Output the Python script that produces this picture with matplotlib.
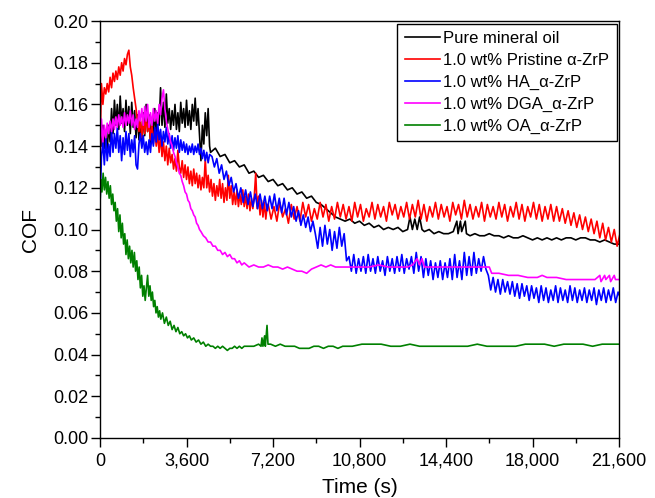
import matplotlib
matplotlib.use('Agg')
import matplotlib.pyplot as plt
from matplotlib.ticker import MultipleLocator, FuncFormatter

plt.rcParams['font.family'] = ['Liberation Sans', 'DejaVu Sans']

# ---------------- data (time in s, COF) ----------------
series_labels = ['Pure mineral oil', '1.0 wt% Pristine \u03b1-ZrP', '1.0 wt% HA_\u03b1-ZrP',
                 '1.0 wt% DGA_\u03b1-ZrP', '1.0 wt% OA_\u03b1-ZrP']
series_colors = ['#000000', '#ff0000', '#0000ff', '#ff00ff', '#008000']

x_ticks = [0, 3600, 7200, 10800, 14400, 18000, 21600]
y_ticks = [0.00, 0.02, 0.04, 0.06, 0.08, 0.10, 0.12, 0.14, 0.16, 0.18, 0.20]

# black: pure mineral oil
black_early = [  # sampled every 60 s from 0 s
    0.148, 0.140, 0.150, 0.139, 0.146, 0.138, 0.150, 0.142, 0.158, 0.146,
    0.162, 0.150, 0.160, 0.148, 0.164, 0.151, 0.158, 0.147, 0.162, 0.150,
    0.159, 0.146, 0.161, 0.149, 0.157, 0.144, 0.155, 0.143, 0.152, 0.140,
    0.156, 0.145, 0.160, 0.147, 0.155, 0.141, 0.153, 0.146, 0.158, 0.144,
    0.156, 0.150, 0.168, 0.150, 0.161, 0.149, 0.165, 0.151, 0.158, 0.148,
    0.157, 0.150, 0.160, 0.148, 0.156, 0.147, 0.161, 0.151, 0.158, 0.149,
    0.162, 0.150, 0.157, 0.148, 0.160, 0.152, 0.163, 0.150, 0.158, 0.145,
    0.133, 0.150, 0.141, 0.156, 0.145, 0.158, 0.140]
black_late = [
    (4600, 0.137), (4800, 0.139), (5000, 0.135), (5200, 0.136), (5400, 0.132), (5600, 0.133),
    (5800, 0.130), (6000, 0.131), (6200, 0.127), (6400, 0.128), (6600, 0.125), (6800, 0.126),
    (7000, 0.123), (7200, 0.124), (7400, 0.121), (7600, 0.122), (7800, 0.119), (8000, 0.120),
    (8200, 0.117), (8400, 0.118), (8600, 0.115), (8800, 0.116), (9000, 0.113), (9200, 0.112),
    (9400, 0.110), (9600, 0.108), (9800, 0.106), (10000, 0.105), (10200, 0.104), (10400, 0.105),
    (10600, 0.103), (10800, 0.104), (11000, 0.102), (11200, 0.103), (11400, 0.101), (11600, 0.102),
    (11800, 0.100), (12000, 0.101), (12200, 0.100), (12400, 0.101), (12600, 0.099), (12800, 0.100),
    (12900, 0.106), (13000, 0.100), (13100, 0.105), (13200, 0.100), (13300, 0.106), (13400, 0.100),
    (13500, 0.099), (13700, 0.100), (13900, 0.098), (14100, 0.099), (14300, 0.098), (14500, 0.098),
    (14700, 0.099), (14850, 0.104), (14900, 0.098), (15000, 0.104), (15050, 0.099), (15200, 0.104),
    (15250, 0.098), (15400, 0.097), (15600, 0.098), (15800, 0.097), (16000, 0.097), (16200, 0.098),
    (16400, 0.097), (16600, 0.097), (16800, 0.096), (17000, 0.097), (17200, 0.096), (17400, 0.096),
    (17600, 0.097), (17800, 0.096), (18000, 0.095), (18200, 0.096), (18400, 0.095), (18600, 0.096),
    (18800, 0.095), (19000, 0.096), (19200, 0.095), (19400, 0.096), (19600, 0.096), (19800, 0.095),
    (20000, 0.096), (20200, 0.096), (20400, 0.095), (20600, 0.095), (20800, 0.094), (21000, 0.095),
    (21200, 0.094), (21400, 0.093), (21600, 0.093)]

# red: pristine alpha-ZrP
red_early = [  # every 60 s from 0 s
    0.140, 0.170, 0.160, 0.168, 0.165, 0.170, 0.166, 0.173, 0.168, 0.175,
    0.171, 0.176, 0.172, 0.178, 0.174, 0.180, 0.176, 0.182, 0.179, 0.184,
    0.186, 0.178, 0.174, 0.168, 0.163, 0.158, 0.152, 0.147, 0.153, 0.144,
    0.153, 0.146, 0.155, 0.147, 0.152, 0.143, 0.150, 0.141, 0.148, 0.140,
    0.146, 0.137, 0.145, 0.135, 0.142, 0.133, 0.140, 0.131, 0.139, 0.132,
    0.136, 0.129, 0.134, 0.128, 0.138, 0.130, 0.127, 0.133, 0.125, 0.131,
    0.124, 0.130, 0.122, 0.128, 0.121, 0.129, 0.122, 0.127, 0.120, 0.126,
    0.119, 0.125, 0.120, 0.134, 0.120, 0.126, 0.118, 0.124, 0.116, 0.122,
    0.114, 0.121, 0.116, 0.124, 0.115, 0.122, 0.113, 0.120, 0.114, 0.126,
    0.115, 0.121, 0.112, 0.118, 0.112, 0.119, 0.111, 0.117, 0.112, 0.119,
    0.111, 0.116, 0.110, 0.117, 0.109, 0.115, 0.110, 0.116, 0.127, 0.110,
    0.116, 0.107, 0.114, 0.106, 0.113, 0.105, 0.112]
red_late = [  # every 120 s from 7000 s
    0.112, 0.105, 0.111, 0.104, 0.113, 0.106, 0.110, 0.103, 0.112, 0.105,
    0.111, 0.104, 0.113, 0.106, 0.112, 0.104, 0.110, 0.105, 0.113, 0.106,
    0.112, 0.104, 0.111, 0.105, 0.113, 0.106, 0.112, 0.105, 0.111, 0.104,
    0.113, 0.106, 0.112, 0.104, 0.110, 0.106, 0.113, 0.105, 0.112, 0.106,
    0.111, 0.104, 0.113, 0.107, 0.112, 0.105, 0.111, 0.106, 0.113, 0.105,
    0.112, 0.106, 0.114, 0.105, 0.112, 0.104, 0.111, 0.106, 0.113, 0.105,
    0.112, 0.106, 0.111, 0.104, 0.113, 0.107, 0.112, 0.105, 0.114, 0.106,
    0.112, 0.105, 0.111, 0.106, 0.113, 0.104, 0.112, 0.106, 0.111, 0.105,
    0.113, 0.106, 0.112, 0.104, 0.111, 0.106, 0.113, 0.105, 0.112, 0.104,
    0.111, 0.106, 0.113, 0.105, 0.112, 0.104, 0.111, 0.105, 0.112, 0.104,
    0.111, 0.104, 0.110, 0.103, 0.109, 0.102, 0.108, 0.101, 0.107, 0.100,
    0.106, 0.099, 0.105, 0.098, 0.104, 0.096, 0.103, 0.095, 0.101, 0.094,
    0.100, 0.092, 0.098]

# blue: HA_alpha-ZrP
blue_early = [  # every 60 s from 0 s
    0.112, 0.135, 0.142, 0.131, 0.144, 0.133, 0.141, 0.135, 0.148, 0.137,
    0.146, 0.139, 0.149, 0.137, 0.145, 0.133, 0.144, 0.136, 0.147, 0.138,
    0.146, 0.135, 0.143, 0.137, 0.145, 0.131, 0.129, 0.141, 0.146, 0.139,
    0.145, 0.137, 0.142, 0.136, 0.143, 0.137, 0.146, 0.140, 0.149, 0.142,
    0.151, 0.143, 0.148, 0.140, 0.147, 0.142, 0.149, 0.141, 0.146, 0.139,
    0.145, 0.138, 0.144, 0.139, 0.145, 0.137, 0.143, 0.138, 0.142, 0.137,
    0.141, 0.136, 0.140, 0.137, 0.141, 0.136, 0.140, 0.137, 0.141, 0.136,
    0.139, 0.134, 0.138, 0.133, 0.137, 0.132, 0.136]
blue_mid = [  # every 100 s from 4660 s
    0.135, 0.130, 0.134, 0.127, 0.131, 0.124, 0.128, 0.121, 0.125, 0.118,
    0.122, 0.115, 0.120, 0.113, 0.119, 0.112, 0.118, 0.111, 0.117, 0.110,
    0.117, 0.110, 0.116, 0.109, 0.116, 0.110, 0.117, 0.109, 0.115, 0.108,
    0.115, 0.107, 0.113, 0.106, 0.111, 0.104, 0.109, 0.102, 0.107, 0.101,
    0.106, 0.099, 0.104, 0.098,
    0.091, 0.101, 0.092, 0.102, 0.093, 0.100, 0.090, 0.099, 0.091, 0.101,
    0.092, 0.098, 0.085]
blue_plateau = [  # every 100 s from 10360 s
    0.087, 0.080, 0.088, 0.079, 0.086, 0.080, 0.087, 0.079, 0.088, 0.080,
    0.086, 0.079, 0.087, 0.080, 0.085, 0.078, 0.087, 0.080, 0.086, 0.079,
    0.087, 0.080, 0.088, 0.079, 0.086, 0.081, 0.087, 0.079, 0.089, 0.080,
    0.087, 0.077, 0.086, 0.078, 0.085, 0.076, 0.084, 0.077, 0.085, 0.076,
    0.084, 0.077, 0.086, 0.076, 0.088, 0.077, 0.085, 0.076, 0.089, 0.078,
    0.087, 0.078, 0.089, 0.079, 0.086, 0.080, 0.087, 0.081]
blue_late = [  # every 100 s from 16160 s
    0.078, 0.071, 0.077, 0.070, 0.076, 0.069, 0.076, 0.070, 0.075, 0.069,
    0.075, 0.068, 0.074, 0.067, 0.074, 0.068, 0.073, 0.066, 0.073, 0.067,
    0.072, 0.065, 0.073, 0.066, 0.072, 0.065, 0.071, 0.066, 0.073, 0.065,
    0.072, 0.066, 0.071, 0.065, 0.073, 0.066, 0.072, 0.065, 0.071, 0.066,
    0.072, 0.065, 0.071, 0.066, 0.072, 0.064, 0.071, 0.066, 0.072, 0.065,
    0.071, 0.066, 0.072, 0.065, 0.070, 0.067]

# magenta: DGA_alpha-ZrP
magenta_early = [  # every 60 s from 0 s
    0.135, 0.153, 0.142, 0.150, 0.144, 0.151, 0.146, 0.152, 0.147, 0.153,
    0.148, 0.154, 0.149, 0.155, 0.150, 0.154, 0.149, 0.156, 0.150, 0.155,
    0.151, 0.157, 0.150, 0.155, 0.148, 0.153, 0.149, 0.157, 0.152, 0.158,
    0.150, 0.159, 0.152, 0.160, 0.149, 0.156, 0.150, 0.158, 0.152, 0.157,
    0.151, 0.160, 0.155, 0.163, 0.167, 0.158, 0.152, 0.148, 0.145, 0.142,
    0.140, 0.137, 0.135, 0.132, 0.130, 0.127, 0.126, 0.123, 0.121, 0.118,
    0.117, 0.114, 0.113, 0.110, 0.109, 0.107, 0.106, 0.103, 0.102, 0.100]
magenta_late = [
    (4200, 0.099), (4300, 0.097), (4400, 0.096), (4500, 0.094), (4600, 0.094), (4700, 0.092),
    (4800, 0.092), (4900, 0.090), (5000, 0.090), (5100, 0.088), (5200, 0.089), (5300, 0.087),
    (5400, 0.088), (5500, 0.086), (5600, 0.086), (5700, 0.084), (5800, 0.085), (5900, 0.083),
    (6000, 0.084), (6200, 0.082), (6400, 0.083), (6600, 0.082), (6800, 0.082), (7000, 0.083),
    (7200, 0.082), (7400, 0.082), (7600, 0.081), (7800, 0.082), (8000, 0.081), (8200, 0.080),
    (8400, 0.080), (8600, 0.079), (8800, 0.081), (9000, 0.082), (9200, 0.083), (9400, 0.082),
    (9600, 0.083), (9800, 0.082), (10000, 0.082), (10400, 0.082), (10800, 0.082), (11200, 0.082),
    (11600, 0.083), (12000, 0.082), (12400, 0.082), (12800, 0.082), (13000, 0.083), (13200, 0.086),
    (13300, 0.083), (13400, 0.086), (13500, 0.082), (13800, 0.082), (14200, 0.082), (14600, 0.082),
    (15000, 0.082), (15400, 0.082), (15800, 0.082), (16200, 0.082), (16300, 0.079), (16600, 0.079),
    (17000, 0.078), (17400, 0.078), (17800, 0.077), (18200, 0.077), (18400, 0.078), (18600, 0.077),
    (19000, 0.077), (19400, 0.076), (19800, 0.076), (20200, 0.076), (20600, 0.076), (20800, 0.078),
    (20850, 0.075), (21000, 0.078), (21050, 0.076), (21200, 0.078), (21250, 0.075), (21400, 0.078),
    (21450, 0.076), (21600, 0.076)]

# green: OA_alpha-ZrP
green_points = [
    (0, 0.112), (30, 0.124), (80, 0.118), (130, 0.127), (180, 0.119), (230, 0.125), (280, 0.117),
    (330, 0.123), (380, 0.115), (430, 0.121), (480, 0.112), (530, 0.117), (580, 0.109), (630, 0.113),
    (680, 0.104), (730, 0.110), (780, 0.099), (830, 0.107), (880, 0.096), (930, 0.103), (980, 0.093),
    (1030, 0.098), (1080, 0.088), (1130, 0.095), (1180, 0.086), (1230, 0.092), (1280, 0.084),
    (1330, 0.090), (1380, 0.082), (1430, 0.089), (1480, 0.080), (1530, 0.085), (1580, 0.076),
    (1630, 0.082), (1680, 0.072), (1730, 0.078), (1780, 0.068), (1830, 0.073), (1880, 0.066),
    (1930, 0.072), (1980, 0.078), (2030, 0.068), (2080, 0.073), (2130, 0.066), (2180, 0.070),
    (2230, 0.063), (2280, 0.066), (2330, 0.060), (2380, 0.063), (2430, 0.058), (2480, 0.061),
    (2530, 0.057), (2600, 0.060), (2680, 0.055), (2760, 0.058), (2840, 0.054), (2920, 0.056),
    (3000, 0.052), (3080, 0.054), (3160, 0.051), (3240, 0.053), (3320, 0.050), (3400, 0.051),
    (3480, 0.049), (3560, 0.050), (3640, 0.048), (3720, 0.049), (3800, 0.047), (3900, 0.048),
    (4000, 0.046), (4100, 0.047), (4200, 0.045), (4300, 0.046), (4400, 0.044), (4500, 0.045),
    (4600, 0.044), (4700, 0.044), (4800, 0.043), (4900, 0.044), (5000, 0.043), (5100, 0.044),
    (5200, 0.043), (5300, 0.042), (5400, 0.043), (5500, 0.043), (5600, 0.044), (5700, 0.043),
    (5800, 0.044), (5900, 0.043), (6000, 0.044), (6200, 0.044), (6400, 0.044), (6600, 0.045),
    (6700, 0.044), (6740, 0.048), (6780, 0.044), (6850, 0.049), (6880, 0.044), (6950, 0.054),
    (6990, 0.045), (7100, 0.045), (7300, 0.044), (7500, 0.045), (7700, 0.044), (7900, 0.044),
    (8100, 0.044), (8300, 0.043), (8500, 0.043), (8700, 0.043), (8900, 0.044), (9100, 0.044),
    (9300, 0.043), (9500, 0.044), (9700, 0.044), (9900, 0.043), (10100, 0.044), (10500, 0.044),
    (10900, 0.045), (11300, 0.045), (11700, 0.045), (12100, 0.044), (12500, 0.044), (12900, 0.045),
    (13300, 0.044), (13700, 0.044), (14100, 0.044), (14500, 0.044), (14900, 0.044), (15300, 0.044),
    (15700, 0.045), (16100, 0.044), (16500, 0.044), (16900, 0.044), (17300, 0.044), (17700, 0.045),
    (18100, 0.045), (18500, 0.045), (18900, 0.044), (19300, 0.045), (19700, 0.045), (20100, 0.045),
    (20500, 0.044), (20900, 0.045), (21300, 0.045), (21600, 0.045)]


def grid(start, step, vals):
    return [start + i * step for i in range(len(vals))], list(vals)


def pairs(p):
    return [a for a, _ in p], [b for _, b in p]


def join(*parts):
    t, v = [], []
    for pt, pv in parts:
        t += pt
        v += pv
    return t, v


series = [
    join(grid(0, 60, black_early), pairs(black_late)),
    join(grid(0, 60, red_early), grid(7000, 120, red_late)),
    join(grid(0, 60, blue_early), grid(4660, 100, blue_mid),
         grid(10360, 100, blue_plateau), grid(16160, 100, blue_late)),
    join(grid(0, 60, magenta_early), pairs(magenta_late)),
    pairs(green_points),
]

# ---------------- figure ----------------
fig = plt.figure(figsize=(6.55, 4.98), dpi=100)
ax = fig.add_axes([0.1527, 0.1205, 0.7924, 0.8373])

for (t, v), lab, col in zip(series, series_labels, series_colors):
    ax.plot(t, v, color=col, lw=1.2, label=lab)

ax.set_xlim(0, 21600)
ax.set_ylim(0, 0.20)
ax.set_xticks(x_ticks)
ax.set_yticks(y_ticks)
ax.xaxis.set_minor_locator(MultipleLocator(1800))
ax.yaxis.set_minor_locator(MultipleLocator(0.01))
ax.xaxis.set_major_formatter(FuncFormatter(lambda v, p: f'{int(round(v)):,}'))
ax.yaxis.set_major_formatter(FuncFormatter(lambda v, p: f'{v:.2f}'))
ax.tick_params(which='both', direction='out', top=False, right=False, width=1.0, colors='black')
ax.tick_params(which='major', length=6.5, labelsize=13)
ax.tick_params(axis='y', which='major', pad=2)
ax.tick_params(axis='x', which='major', pad=4)
ax.tick_params(which='minor', length=3.5)
for s in ax.spines.values():
    s.set_linewidth(1.0)
    s.set_color('black')

ax.set_xlabel('Time (s)', fontsize=15, labelpad=6)
ax.set_ylabel('COF', fontsize=15, labelpad=9)

leg = ax.legend(loc='upper right', fontsize=12, frameon=True, fancybox=False,
                edgecolor='black', framealpha=1, handlelength=2.1, handletextpad=0.2,
                labelspacing=0.41, borderpad=0.45, borderaxespad=0.15)
leg.get_frame().set_linewidth(1.0)

fig.savefig('out.png', dpi=100)
